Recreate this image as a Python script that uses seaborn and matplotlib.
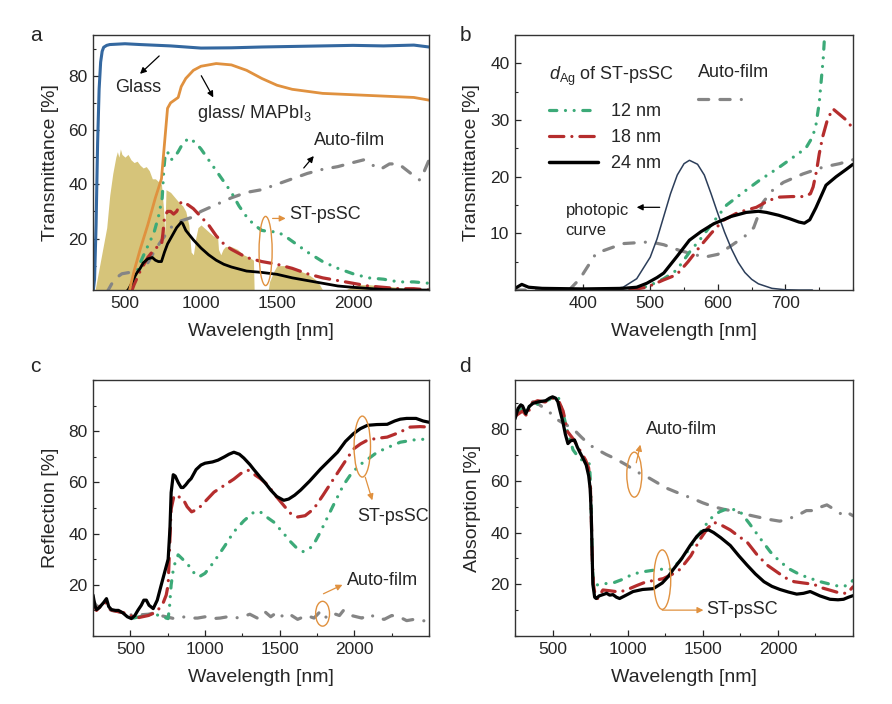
import matplotlib
matplotlib.use("Agg")
import matplotlib.pyplot as plt
import seaborn as sns
from matplotlib.patches import Ellipse
from matplotlib.lines import Line2D
from matplotlib.ticker import MultipleLocator, FixedLocator

# ---------------- data ----------------
# panel a: transmittance
wl_sun = [290, 300, 320, 340, 360, 380, 400, 420, 440, 450, 460, 470, 480, 500, 520, 540, 560, 580, 600,
          620, 640, 660, 680, 700, 720, 740, 755, 762, 770, 800, 830, 860, 880, 900, 920, 935, 950, 965,
          980, 1000, 1040, 1080, 1110, 1115, 1130, 1145, 1160, 1200, 1240, 1280, 1320, 1345, 1350, 1440,
          1450, 1480, 1500, 1550, 1600, 1650, 1700, 1750, 1780, 1800, 1810, 1940, 1950, 2000, 2050, 2100,
          2200, 2300, 2350, 2400, 2500]
sun = [0, 0, 6, 12, 18, 24, 36, 44, 50, 52, 50, 53, 51, 50, 51, 49, 48, 48.5, 47,
       46, 46.5, 45, 42, 42, 41, 40, 30, 22, 38, 37, 35, 33, 32, 30, 25, 15, 14, 20,
       24, 25, 23, 21, 20, 16, 14, 16, 17, 17, 16, 14, 13, 12, 0, 0,
       4, 8, 10, 10, 9, 8, 7, 5, 3, 1, 0, 0, 1, 2.5, 3, 3,
       2.5, 2, 1.5, 0.5, 0]

wl_glass = [290, 300, 310, 320, 330, 340, 350, 360, 380, 400, 500, 600, 800, 1000, 1200, 1400, 1600,
            1800, 2000, 2200, 2400, 2500]
t_glass = [0, 5, 25, 55, 75, 85, 89, 90.5, 91.2, 91.5, 91.8, 91.5, 91, 90.2, 90.3, 90.6, 90.8,
           91, 91.2, 91, 91.3, 90.6]

wl_mapbi = [530, 560, 600, 650, 700, 740, 760, 780, 800, 850, 860, 870, 900, 950, 1000, 1100, 1200,
            1300, 1400, 1500, 1600, 1800, 2000, 2200, 2400, 2500]
t_mapbi = [1, 8, 16, 25, 35, 42, 55, 68, 70, 72, 74, 76, 79, 82, 83.5, 84.5, 84, 82, 79, 76.5, 75,
           73.5, 73, 72.5, 72, 71]

wl_a12 = [530, 560, 600, 640, 690, 720, 745, 755, 765, 780, 800, 820, 850, 880, 920, 960, 1000, 1050,
          1100, 1150, 1200, 1250, 1300, 1350, 1400, 1450, 1500, 1550, 1600, 1700, 1800, 1900, 2000,
          2100, 2200, 2300, 2400, 2500]
t_a12 = [0, 5, 11, 16, 22, 28, 35, 45, 51, 52, 49, 49.5, 52, 55, 57, 55.5, 53, 49, 45, 41, 37, 32,
         28, 25, 23, 22.5, 22.5, 21, 19, 15, 11.5, 9, 7, 5.5, 5, 4, 4, 3.5]

wl_a18 = [540, 560, 600, 650, 700, 740, 750, 760, 780, 800, 820, 840, 870, 900, 950, 1000, 1050, 1100,
          1150, 1200, 1250, 1300, 1400, 1500, 1600, 1700, 1800, 1900, 2000, 2100, 2200, 2300, 2400, 2500]
t_a18 = [0, 3, 8, 13, 16.5, 17.5, 22, 28, 30, 30, 29, 30, 33.5, 33, 31, 28, 25, 21, 18, 16, 14.5, 13,
         11.5, 10.5, 9, 7, 5.5, 4.5, 3.5, 2.5, 2, 1.5, 1.5, 1]

wl_a24 = [500, 520, 540, 560, 580, 600, 620, 650, 680, 700, 720, 740, 760, 780, 800, 820, 840, 870,
          880, 900, 950, 1000, 1050, 1100, 1150, 1200, 1300, 1400, 1500, 1600, 1700, 1800, 1900, 2000,
          2200, 2400, 2500]
t_a24 = [0, 1, 3, 5.5, 7.5, 9, 11, 12.5, 13, 12, 11.5, 11.5, 15, 18, 20, 22, 24, 26, 25.5, 23, 19.5,
         16.5, 14, 12, 10.5, 9.5, 8, 7.5, 6.8, 5.5, 4.5, 3.5, 2.5, 2, 1.2, 1, 1]

wl_aauto = [380, 400, 430, 480, 530, 600, 650, 700, 750, 800, 870, 950, 1000, 1100, 1200, 1300, 1400,
            1500, 1600, 1700, 1800, 1900, 2000, 2070, 2130, 2180, 2240, 2300, 2380, 2440, 2470, 2500]
t_aauto = [0, 2, 5, 7, 7.5, 8.5, 11, 16, 20, 24, 26.5, 28, 30, 32.5, 35, 37, 38, 40, 42, 44, 45.5,
           46.5, 48, 49, 47, 45.5, 47.5, 47.5, 44, 41.5, 45, 49]

# panel b: visible range
wl_phot = [380, 400, 440, 460, 480, 500, 510, 520, 530, 540, 550, 558, 570, 580, 590, 600, 610, 620,
           630, 640, 650, 660, 680, 700, 720, 740]
phot = [0, 0, 0.1, 0.5, 2.0, 5.8, 9.0, 13.0, 17.0, 20.3, 22.3, 22.9, 22.2, 20.3, 17.0, 13.5, 10.2,
        7.3, 4.9, 3.1, 1.9, 1.1, 0.3, 0.05, 0, 0]

wl_bauto = [300, 380, 396, 420, 460, 500, 520, 543, 580, 600, 617, 640, 653, 667, 680, 697, 726, 756,
            780, 800]
t_bauto = [0, 0, 2, 6.5, 8.2, 8.5, 8, 7, 5.8, 6.3, 7.6, 9.5, 11, 15.5, 17.5, 19, 20.5, 21.7, 22.3, 23]

wl_b24 = [300, 310, 320, 340, 400, 460, 480, 495, 510, 520, 540, 558, 575, 594, 620, 642, 660, 672,
          690, 706, 720, 728, 736, 745, 760, 775, 790, 800]
t_b24 = [0.3, 1.0, 0.5, 0.3, 0.2, 0.3, 0.5, 1.2, 2.2, 3, 6, 8.8, 10.3, 11.7, 13, 13.7, 13.9, 13.7,
         13.2, 12.6, 12, 11.8, 12.4, 14.5, 18.5, 20, 21.3, 22.2]

wl_b12 = [470, 480, 499, 520, 539, 560, 573, 590, 613, 637, 662, 690, 711, 730, 740, 745, 750, 753,
          756, 758, 760]
t_b12 = [0, 0.1, 0.8, 2, 3.5, 7, 8.8, 11.5, 15, 17.2, 19.4, 21.6, 23.4, 25, 27, 29, 33, 37, 41, 45, 47]

wl_b18 = [470, 495, 520, 539, 556, 573, 590, 608, 630, 657, 675, 691, 710, 728, 737, 741, 746, 750,
          755, 762, 770, 780, 790, 800]
t_b18 = [0, 0.5, 1.8, 2.7, 5, 7.6, 10, 12.3, 13.7, 14.6, 15.8, 16.4, 16.5, 16.5, 17, 18.2, 21, 24,
         27, 30, 32, 31, 30, 28.5]

# panel c: reflection
wl_c24 = [250, 262, 273, 290, 305, 320, 340, 355, 373, 400, 420, 450, 480, 507, 530, 550, 573, 590,
          607, 625, 653, 680, 707, 730, 753, 765, 773, 787, 800, 820, 840, 853, 870, 890, 907, 940,
          973, 1000, 1050, 1087, 1130, 1160, 1193, 1230, 1260, 1300, 1327, 1370, 1400, 1440, 1480,
          1527, 1560, 1600, 1640, 1700, 1773, 1830, 1887, 1940, 1993, 2040, 2087, 2150, 2220, 2270,
          2307, 2350, 2413, 2460, 2500]
r_c24 = [16, 12, 10.3, 11, 12, 13, 14.6, 11.5, 10.3, 10, 10, 9, 7.5, 6.8, 8, 10, 12, 14, 14, 12,
         10.7, 14, 20, 25, 30, 42, 56, 63, 62.5, 60, 58, 58, 59, 60.5, 61.5, 65, 66.8, 67.5, 68,
         68.7, 70, 71, 71.8, 71, 69.5, 67, 65, 62, 60, 57, 54.5, 53, 53.5, 55, 57, 60.5, 65.2, 68.5,
         71.8, 76, 79, 81, 82.3, 82.6, 82.7, 84, 84.7, 85, 85, 84, 83.5]

wl_c18 = [250, 273, 305, 330, 350, 380, 420, 460, 500, 540, 580, 620, 660, 687, 720, 740, 753, 763,
          773, 793, 820, 853, 880, 910, 953, 1000, 1060, 1120, 1193, 1240, 1287, 1320, 1370, 1420,
          1470, 1527, 1570, 1620, 1670, 1727, 1790, 1860, 1930, 1993, 2040, 2087, 2150, 2220, 2300,
          2373, 2440, 2500]
r_c18 = [13, 10, 12, 13.5, 11, 10, 9.5, 9, 8, 7, 7.5, 8, 9, 10.3, 13, 16, 20, 35, 49.6, 55, 54.5,
         53.5, 50.5, 48.5, 49.6, 52.5, 56.2, 58.5, 61.3, 63.5, 64.8, 63.5, 61.5, 59, 55, 51, 48, 46.5,
         47, 49.6, 55, 61.3, 67.5, 73, 75, 76.5, 77.2, 77.7, 79.5, 81.6, 81.8, 81.6]

wl_c12 = [520, 560, 600, 650, 700, 740, 753, 763, 773, 790, 820, 850, 887, 920, 960, 1000, 1060, 1130,
          1193, 1260, 1327, 1370, 1400, 1460, 1520, 1573, 1620, 1660, 1720, 1773, 1850, 1927, 1980,
          2040, 2100, 2153, 2230, 2307, 2400, 2500]
r_c12 = [7, 7.5, 8, 8.5, 8, 7, 6.8, 12, 20, 27, 31.7, 30, 27.8, 25, 23.1, 24.5, 29, 35, 40.7, 45,
         48.4, 48.5, 47, 44.5, 40.5, 36.8, 34, 32.9, 35, 40.7, 50, 59, 63.5, 67, 69.5, 71.8, 73.8,
         75.7, 76.6, 77]

wl_cauto = [250, 270, 300, 340, 373, 420, 480, 530, 573, 620, 660, 700, 740, 793, 850, 900, 950, 1000,
            1050, 1100, 1150, 1200, 1250, 1300, 1350, 1400, 1440, 1487, 1530, 1580, 1620, 1680, 1730,
            1770, 1800, 1850, 1900, 1927, 1980, 2050, 2100, 2150, 2200, 2250, 2300, 2350, 2400, 2450,
            2500]
r_cauto = [14, 12, 11, 11, 10, 9.5, 8.5, 8, 8.3, 8.5, 9, 8, 7.5, 6.8, 7.5, 7, 7, 7.5, 6.8, 7, 7.5,
           7, 7.5, 8.5, 7, 9.5, 7.5, 9.5, 7, 8, 6.5, 8, 7, 9.5, 7, 9, 8, 10, 8, 7, 8.5, 7, 6.5, 8, 7.5,
           6, 6.5, 6, 5.8]

# panel d: absorption
wl_d24 = [250, 270, 288, 300, 322, 345, 370, 409, 454, 480, 500, 520, 535, 550, 568, 585, 602, 620,
          646, 665, 680, 700, 724, 740, 750, 757, 762, 768, 780, 790, 810, 835, 860, 880, 902, 925,
          946, 980, 1036, 1100, 1170, 1230, 1270, 1304, 1360, 1416, 1460, 1505, 1540, 1572, 1620,
          1683, 1740, 1795, 1850, 1907, 1960, 2013, 2070, 2125, 2170, 2215, 2280, 2347, 2400, 2437,
          2470, 2500]
a_d24 = [84, 88, 89.4, 89, 86, 88.8, 90, 90.6, 91, 92, 92.5, 92, 90.6, 87, 82.9, 78, 74.4, 75.5,
         75.8, 73, 71.2, 69, 66.1, 62, 57, 48, 35, 20, 15, 14.5, 15.5, 16, 16.5, 15.8, 16, 15, 14.5,
         15.5, 17.2, 18, 18.3, 20.5, 23, 25.8, 30, 35, 38.5, 40.8, 41, 40, 38, 35, 31, 27.4, 24, 21,
         19.2, 18, 17, 16.2, 16.5, 17.2, 15.5, 14.2, 14, 14.2, 15, 15.6]

wl_d18 = [250, 300, 330, 360, 400, 450, 500, 540, 570, 600, 640, 680, 720, 740, 752, 758, 764, 772,
          785, 800, 835, 880, 946, 1000, 1060, 1125, 1180, 1237, 1300, 1349, 1420, 1483, 1530, 1572,
          1620, 1683, 1740, 1795, 1860, 1929, 2000, 2050, 2108, 2170, 2237, 2300, 2360, 2413, 2460,
          2500]
a_d18 = [85, 87, 85, 90, 91, 90.5, 92, 91, 87, 79, 76, 72, 68, 65, 57, 45, 30, 20, 15, 14.5, 17.8,
         17.5, 17, 18, 19.5, 21, 21.5, 22.2, 24, 25.8, 31, 37.5, 41.5, 44, 43, 41, 38.5, 36.3, 31.5,
         27.4, 24.5, 22.5, 21, 20.5, 20, 18.5, 17.5, 16.6, 16.5, 19]

wl_d12 = [250, 300, 360, 420, 480, 510, 540, 570, 600, 636, 680, 720, 746, 755, 760, 766, 775, 790,
          840, 902, 970, 1036, 1120, 1214, 1281, 1340, 1394, 1470, 1549, 1610, 1661, 1700, 1750, 1810,
          1884, 1950, 2013, 2080, 2148, 2220, 2282, 2350, 2415, 2460, 2500]
a_d12 = [86, 88, 89, 90, 91.5, 93, 92, 86, 79, 72, 68.5, 67.5, 66.5, 55, 40, 25, 20, 19.7, 20.2,
         20.5, 22, 24, 25, 25.8, 25.8, 28.5, 32.4, 39, 45.3, 48, 49.2, 49, 48, 43.5, 37.6, 32.5,
         28.8, 25.8, 23.7, 22.2, 21, 20, 19.1, 19.5, 21.5]

wl_dauto = [250, 280, 310, 340, 370, 410, 454, 490, 522, 580, 635, 690, 746, 800, 857, 920, 990, 1060,
            1125, 1190, 1258, 1350, 1439, 1500, 1572, 1640, 1706, 1790, 1884, 1950, 2013, 2080, 2148,
            2190, 2237, 2290, 2326, 2360, 2393, 2440, 2470, 2500]
a_dauto = [86, 88, 89, 89.5, 90.6, 89.5, 87.7, 86, 84, 82, 80.2, 77, 73.9, 72, 70.2, 68.5, 66.2,
           63.5, 61.7, 59.5, 57.2, 55, 53, 51.5, 50, 49, 48.3, 47, 45.8, 45, 44.4, 45.5, 47.2, 48.5,
           48.5, 50, 50.7, 49.5, 48.2, 46.5, 47.5, 46.5]

# tick labels shown on each panel
xt_wide = [500, 1000, 1500, 2000]
xt_vis = [400, 500, 600, 700]
yt_pct = [20, 40, 60, 80]
yt_vis = [10, 20, 30, 40]

# ---------------- style ----------------
sns.set_theme(style="ticks")
plt.rcParams['font.family'] = ['Liberation Sans', 'DejaVu Sans']
plt.rcParams['mathtext.fontset'] = 'custom'
plt.rcParams['mathtext.rm'] = 'Liberation Sans'
plt.rcParams['mathtext.it'] = 'Liberation Sans:italic'
plt.rcParams['xtick.direction'] = 'in'
plt.rcParams['ytick.direction'] = 'in'
plt.rcParams['axes.edgecolor'] = '#333333'
plt.rcParams['axes.linewidth'] = 1.0

c_glass = '#3468a0'
c_mapbi = '#e0913f'
c_sun = '#d6c47a'
c_12 = '#3caa78'
c_18 = '#b52d2d'
c_24 = 'black'
c_auto = '#858585'
c_phot = '#2c3e5a'
c_note = '#e0913f'

ls_12 = (0, (2.3, 2.7, 0.01, 2.7, 0.01, 2.7))
ls_18 = (0, (4.5, 2.5, 0.01, 2.5))
ls_auto = (0, (3.2, 3.5, 3.2, 3.5, 0.01, 3.5))

TICK = 12.5
LAB = 14
NOTE = 13


def draw(ax, x, y, color, lw, ls='-'):
    sns.lineplot(x=x, y=y, ax=ax, color=color, linewidth=lw, linestyle=ls,
                 dash_capstyle='round', estimator=None, legend=False)
    return ax.lines[-1]


def setup(ax, xlim, ylim, xticks, xmin, yticks, ymin, ylabel):
    ax.set_xlim(*xlim)
    ax.set_ylim(*ylim)
    ax.xaxis.set_major_locator(FixedLocator(xticks))
    ax.xaxis.set_minor_locator(MultipleLocator(xmin))
    ax.yaxis.set_major_locator(FixedLocator(yticks))
    ax.yaxis.set_minor_locator(MultipleLocator(ymin))
    ax.tick_params(which='both', top=False, right=False, labelsize=TICK, pad=4)
    ax.tick_params(which='major', length=4, width=0.9)
    ax.tick_params(which='minor', length=2.5, width=0.8)
    ax.set_xlabel('Wavelength [nm]', fontsize=LAB, labelpad=9)
    ax.set_ylabel(ylabel, fontsize=LAB, labelpad=7)
    for s in ax.spines.values():
        s.set_visible(True)


def note_arrow(ax, tail, head, color='black'):
    ax.annotate('', xy=head, xytext=tail,
                arrowprops=dict(arrowstyle='-|>', color=color, lw=0.9, mutation_scale=9,
                                shrinkA=0, shrinkB=0))


def ring(ax, center, w, h):
    ax.add_patch(Ellipse(center, w, h, fill=False, edgecolor=c_note, lw=1.0, zorder=5))


fig = plt.figure(figsize=(8.92, 7.04), dpi=100)
ax_a = fig.add_axes([0.1043, 0.588, 0.3767, 0.3622])
ax_b = fig.add_axes([0.5774, 0.588, 0.3789, 0.3622])
ax_c = fig.add_axes([0.1043, 0.0966, 0.3767, 0.3636])
ax_d = fig.add_axes([0.5774, 0.0966, 0.3789, 0.3636])

# ---------------- a ----------------
ax_a.fill_between(wl_sun, sun, 0, color=c_sun, lw=0)
draw(ax_a, wl_aauto, t_aauto, c_auto, 2.3, ls_auto)
draw(ax_a, wl_a12, t_a12, c_12, 2.3, ls_12)
draw(ax_a, wl_a18, t_a18, c_18, 2.3, ls_18)
draw(ax_a, wl_a24, t_a24, c_24, 2.0)
draw(ax_a, wl_mapbi, t_mapbi, c_mapbi, 2.0)
draw(ax_a, wl_glass, t_glass, c_glass, 2.2)
setup(ax_a, (290, 2500), (1, 95), xt_wide, 250, yt_pct, 10, 'Transmittance [%]')

ax_a.text(586, 75.6, 'Glass', fontsize=NOTE, ha='center', va='center')
note_arrow(ax_a, (725, 87.3), (599, 80.7))
ax_a.text(976, 66, 'glass/ MAPbI$_3$', fontsize=NOTE, ha='left', va='center')
note_arrow(ax_a, (1002, 80), (1081, 72))
ax_a.text(1742, 56.3, 'Auto-film', fontsize=NOTE, ha='left', va='center')
note_arrow(ax_a, (1676, 46), (1742, 50.4))
ax_a.text(1577, 29, 'ST-psSC', fontsize=NOTE, ha='left', va='center')
ring(ax_a, (1425, 15.4), 86, 25.5)
note_arrow(ax_a, (1471, 27.4), (1557, 27.4), c_note)

# ---------------- b ----------------
draw(ax_b, wl_bauto, t_bauto, c_auto, 2.3, ls_auto)
draw(ax_b, wl_phot, phot, c_phot, 1.1)
draw(ax_b, wl_b12, t_b12, c_12, 2.3, ls_12)
draw(ax_b, wl_b18, t_b18, c_18, 2.3, ls_18)
draw(ax_b, wl_b24, t_b24, c_24, 2.3)
setup(ax_b, (300, 800), (0, 45), xt_vis, 50, yt_vis, 5, 'Transmittance [%]')

h12 = Line2D([], [], color=c_12, lw=2.3, linestyle=ls_12, dash_capstyle='round')
h18 = Line2D([], [], color=c_18, lw=2.3, linestyle=ls_18, dash_capstyle='round')
h24 = Line2D([], [], color=c_24, lw=2.5)
hauto = Line2D([], [], color=c_auto, lw=2.3, linestyle=ls_auto, dash_capstyle='round')
leg1 = ax_b.legend([h12, h18, h24], ['12 nm', '18 nm', '24 nm'], title='$d_{\\mathrm{Ag}}$ of ST-psSC',
                   loc='upper left', bbox_to_anchor=(0.1, 0.885), frameon=False, fontsize=NOTE,
                   title_fontsize=NOTE, alignment='left', handlelength=2.7, handletextpad=0.75,
                   labelspacing=0.5, borderpad=0, borderaxespad=0)
leg1._legend_box.sep = 11
ax_b.add_artist(leg1)
leg2 = ax_b.legend([hauto], [''], title='Auto-film', loc='upper left', bbox_to_anchor=(0.54, 0.885),
                   frameon=False, fontsize=NOTE, title_fontsize=NOTE, alignment='left',
                   handlelength=3.0, handletextpad=0, borderpad=0, borderaxespad=0)
leg2._legend_box.sep = 8

ax_b.text(375, 12.3, 'photopic\ncurve', fontsize=12, ha='left', va='center', linespacing=1.45)
note_arrow(ax_b, (514, 14.6), (480, 14.6))

# ---------------- c ----------------
draw(ax_c, wl_cauto, r_cauto, c_auto, 2.3, ls_auto)
draw(ax_c, wl_c12, r_c12, c_12, 2.3, ls_12)
draw(ax_c, wl_c18, r_c18, c_18, 2.3, ls_18)
draw(ax_c, wl_c24, r_c24, c_24, 2.3)
setup(ax_c, (250, 2500), (0, 100), xt_wide, 250, yt_pct, 10, 'Reflection [%]')

ax_c.text(2020, 46.5, 'ST-psSC', fontsize=NOTE, ha='left', va='center')
ring(ax_c, (2053, 74), 110, 23.8)
note_arrow(ax_c, (2073, 62), (2120, 53), c_note)
ax_c.text(1953, 21.6, 'Auto-film', fontsize=NOTE, ha='left', va='center')
ring(ax_c, (1787, 8.7), 93, 9.7)
note_arrow(ax_c, (1793, 16.5), (1920, 20), c_note)

# ---------------- d ----------------
draw(ax_d, wl_dauto, a_dauto, c_auto, 2.3, ls_auto)
draw(ax_d, wl_d12, a_d12, c_12, 2.3, ls_12)
draw(ax_d, wl_d18, a_d18, c_18, 2.3, ls_18)
draw(ax_d, wl_d24, a_d24, c_24, 2.3)
setup(ax_d, (250, 2500), (0, 99), xt_wide, 250, yt_pct, 10, 'Absorption [%]')

ax_d.text(1124, 79.7, 'Auto-film', fontsize=NOTE, ha='left', va='center')
ring(ax_d, (1044, 62.4), 100, 17.4)
note_arrow(ax_d, (1057, 67), (1084, 74), c_note)
ax_d.text(1525, 10.4, 'ST-psSC', fontsize=NOTE, ha='left', va='center')
ring(ax_d, (1230, 21.8), 113, 23)
note_arrow(ax_d, (1230, 10), (1504, 10), c_note)

# panel letters
for x, y, s in [(0.034, 0.950, 'a'), (0.515, 0.950, 'b'), (0.034, 0.479, 'c'), (0.515, 0.479, 'd')]:
    fig.text(x, y, s, fontsize=15, ha='left', va='center')

fig.savefig('out.png', dpi=100)
